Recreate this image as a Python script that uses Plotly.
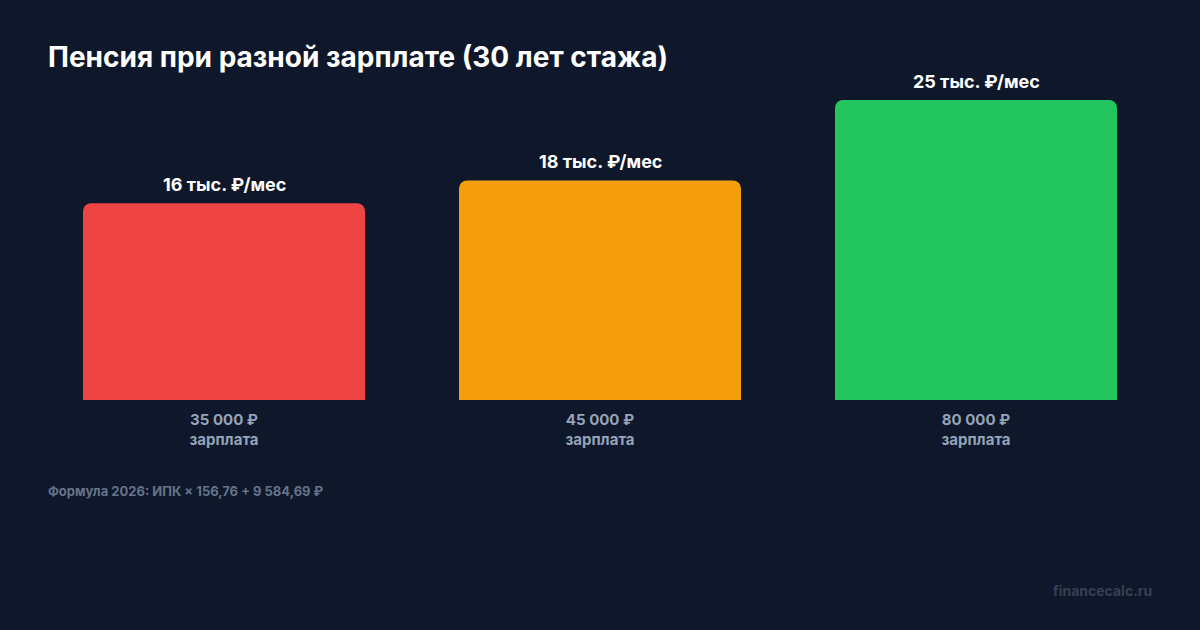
import plotly.graph_objects as go

salaries = ["35 000 ₽", "45 000 ₽", "80 000 ₽"]
pension_k = [16.4, 18.3, 25.0]
bar_colors = ["#ef4444", "#f59e0b", "#22c55e"]
value_labels = [f"{round(v)} тыс. ₽/мес" for v in pension_k]

BG = "#0f172a"
FONT = "Inter, Noto Sans, sans-serif"

fig = go.Figure(
    go.Bar(
        x=salaries,
        y=pension_k,
        marker=dict(color=bar_colors, line=dict(width=0)),
        hoverinfo="skip",
    )
)

for s, v, lab in zip(salaries, pension_k, value_labels):
    fig.add_annotation(
        x=s, y=v, text=f"<b>{lab}</b>", showarrow=False,
        yanchor="bottom", yshift=6,
        font=dict(family=FONT, size=18, color="#ffffff"),
    )

# title, footnote and watermark placed in pixel terms relative to the plot area
fig.add_annotation(
    xref="paper", yref="paper", x=(46 - 36) / 1128, y=1 + (100 - 57) / 300,
    xanchor="left", yanchor="middle", showarrow=False,
    text="<b>Пенсия при разной зарплате (30 лет стажа)</b>",
    font=dict(family=FONT, size=28, color="#ffffff"),
)
fig.add_annotation(
    xref="paper", yref="paper", x=(46 - 36) / 1128, y=-(491 - 400) / 300,
    xanchor="left", yanchor="middle", showarrow=False,
    text="<b>Формула 2026: ИПК × 156,76 + 9 584,69 ₽</b>",
    font=dict(family=FONT, size=13, color="#64748b"),
)
fig.add_annotation(
    xref="paper", yref="paper", x=(1154 - 36) / 1128, y=-(590 - 400) / 300,
    xanchor="right", yanchor="middle", showarrow=False,
    text="<b>financecalc.ru</b>",
    font=dict(family=FONT, size=14, color="#334155"),
)

fig.update_layout(
    width=1200,
    height=630,
    paper_bgcolor=BG,
    plot_bgcolor=BG,
    margin=dict(l=36, r=36, t=100, b=230),
    bargap=0.25,
    barcornerradius=8,
    showlegend=False,
    xaxis=dict(
        tickvals=salaries,
        ticktext=[f"<b>{s}</b><br><b>зарплата</b>" for s in salaries],
        tickfont=dict(family=FONT, size=15, color="#94a3b8"),
        showgrid=False, zeroline=False, showline=False, ticks="",
        ticklabelstandoff=9,
    ),
    yaxis=dict(range=[0, 25], visible=False, showgrid=False),
)

fig.write_html(
    "out.html",
    config={"displayModeBar": False},
    post_script="document.body.style.margin='0';document.body.style.background='#0f172a';",
)
